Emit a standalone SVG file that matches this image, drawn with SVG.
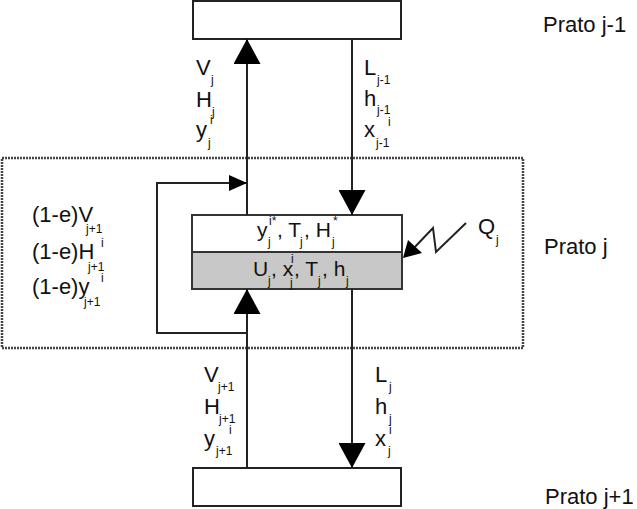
<svg xmlns="http://www.w3.org/2000/svg" width="637" height="509" viewBox="0 0 637 509">
<style>
text{font-family:"Liberation Sans",Arial,sans-serif;fill:#111}
.m{font-size:22px}
.s{font-size:12px}
.c{font-size:21px}
.p{font-size:22px}
.box{fill:#fff;stroke:#222;stroke-width:2}
.ln{fill:none;stroke:#222;stroke-width:2}
</style>
<defs>
<marker id="big" viewBox="0 0 25 27" refX="25" refY="13.5" markerWidth="25" markerHeight="27" orient="auto" markerUnits="userSpaceOnUse"><path d="M0,0 L25,13.5 L0,27 z" fill="#000"/></marker>
<marker id="small" viewBox="0 0 18 16" refX="18" refY="8" markerWidth="18" markerHeight="16" orient="auto" markerUnits="userSpaceOnUse"><path d="M0,0 L18,8 L0,16 z" fill="#000"/></marker>
</defs>
<rect x="0" y="0" width="637" height="509" fill="#fff"/>
<g id="stage-boundary">
<rect x="2" y="158" width="521" height="190" fill="none" stroke="#444" stroke-width="2.5" stroke-dasharray="2 1"/>
</g>
<g id="plate-top"><rect class="box" x="193" y="1" width="208" height="38"/></g>
<g id="plate-bottom"><rect class="box" x="193" y="468" width="208" height="38"/></g>
<g id="plate-j">
<rect x="192" y="215" width="210" height="37" fill="#fff" stroke="#333" stroke-width="2"/>
<rect x="192" y="252" width="210" height="37" fill="#c8c8c8" stroke="#333" stroke-width="2"/>
<text class="c" x="257" y="237">y</text><text class="s" x="268" y="246">j</text><text class="s" x="269" y="225">i*</text>
<text class="c" x="277" y="237">, T</text><text class="s" x="300" y="246">j</text>
<text class="c" x="304" y="237">, H</text><text class="s" x="332" y="246">j</text><text class="s" x="333" y="225">*</text>
<text class="c" x="253" y="276">U</text><text class="s" x="268" y="285">j</text>
<text class="c" x="271" y="276">, x</text><text class="s" x="290" y="287">j</text><text class="s" x="291" y="263">i</text>
<text class="c" x="294" y="276">, T</text><text class="s" x="318" y="285">j</text>
<text class="c" x="322" y="276">, h</text><text class="s" x="346" y="285">j</text>
</g>
<g id="connectors">
<line class="ln" x1="247" y1="215" x2="247" y2="39" marker-end="url(#big)"/>
<line class="ln" x1="352" y1="39" x2="352" y2="215" marker-end="url(#big)"/>
<line class="ln" x1="247" y1="468" x2="247" y2="289" marker-end="url(#big)"/>
<line class="ln" x1="352" y1="289" x2="352" y2="468" marker-end="url(#big)"/>
<polyline class="ln" points="247,333 157,333 157,183 247,183" marker-end="url(#small)"/>
<polyline class="ln" points="466,223 436,252 433,228 412,250"/>
<polygon points="403,258 408,240 422,253" fill="#000"/>
</g>
<g id="labels-top">
<text class="m" x="196" y="75">V</text><text class="s" x="211" y="84">j</text>
<text class="m" x="196" y="107">H</text><text class="s" x="212" y="116">j</text>
<text class="m" x="196" y="137">y</text><text class="s" x="208" y="147">j</text><text class="s" x="210" y="124">i</text>
<text class="m" x="364" y="75">L</text><text class="s" x="377" y="84">j-1</text>
<text class="m" x="364" y="106">h</text><text class="s" x="377" y="114">j-1</text>
<text class="m" x="364" y="137">x</text><text class="s" x="376" y="147">j-1</text><text class="s" x="388" y="126">i</text>
</g>
<g id="labels-bottom">
<text class="m" x="204" y="382">V</text><text class="s" x="218" y="391">j+1</text>
<text class="m" x="204" y="414">H</text><text class="s" x="219" y="423">j+1</text>
<text class="m" x="204" y="446">y</text><text class="s" x="216" y="455">j+1</text><text class="s" x="229" y="434">i</text>
<text class="m" x="375" y="382">L</text><text class="s" x="389" y="391">j</text>
<text class="m" x="375" y="414">h</text><text class="s" x="389" y="423">j</text>
<text class="m" x="375" y="446">x</text><text class="s" x="388" y="455">j</text><text class="s" x="389" y="434">i</text>
</g>
<g id="labels-recycle">
<text class="m" x="32" y="222">(1-e)V</text><text class="s" x="86" y="233">j+1</text>
<text class="m" x="32" y="259">(1-e)H</text><text class="s" x="88" y="271">j+1</text><text class="s" x="101" y="247">i</text>
<text class="m" x="32" y="294">(1-e)y</text><text class="s" x="84" y="306">j+1</text><text class="s" x="101" y="282">i</text>
</g>
<g id="heat">
<text class="m" x="478" y="234">Q</text><text class="s" x="496" y="244">j</text>
</g>
<g id="stage-names">
<text class="p" x="543" y="32">Prato j-1</text>
<text class="p" x="544" y="254">Prato j</text>
<text class="p" x="545" y="504">Prato j+1</text>
</g>
</svg>
